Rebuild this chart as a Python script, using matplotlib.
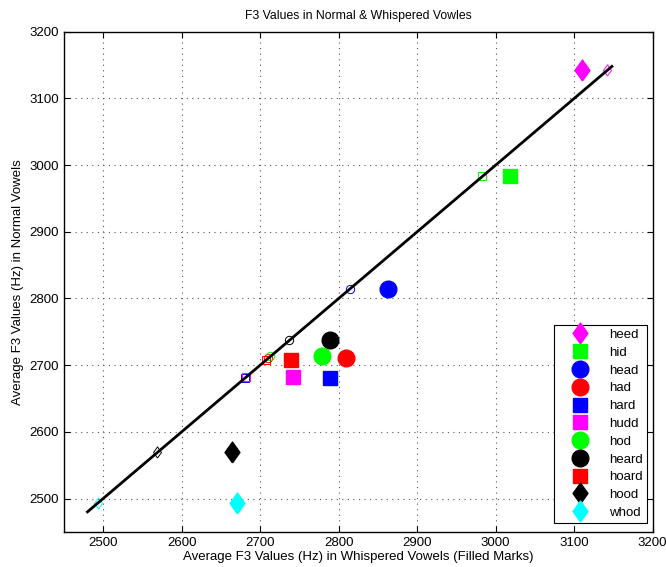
import numpy as np
import matplotlib.pyplot as plt

plt.rcParams['font.family'] = ['Liberation Sans', 'DejaVu Sans']
plt.rcParams['font.size'] = 9.5

# vowels, F3 (Hz): whispered (filled marks) vs normal
vowels = ['heed', 'hid', 'head', 'had', 'hard', 'hudd', 'hod', 'heard', 'hoard', 'hood', 'whod']
whispered = [3110, 3018, 2863, 2809, 2789, 2742, 2779, 2789, 2739, 2664, 2670]
normal = [3142, 2983, 2814, 2710, 2681, 2682, 2713, 2737, 2708, 2569, 2493]
colors = ['magenta', '#00ff00', 'blue', 'red', 'blue', 'magenta', '#00ff00', 'black', 'red', 'black', 'cyan']
markers = ['D', 's', 'o', 'o', 's', 's', 'o', 'o', 's', 'D', 'D']

# reference line y = x
line_x = [2480, 3148]

# tall MATLAB-style diamond
diamond = [(0, -1.4), (1, 0), (0, 1.4), (-1, 0), (0, -1.4)]

fig = plt.figure(figsize=(6.66, 5.67), dpi=100)
ax = fig.add_axes([0.096, 0.062, 0.884, 0.882])

for i in range(len(vowels)):
    m = markers[i]
    ms_open = 6
    if m == 'D':
        m = diamond
        ms_open = 8
    ax.plot(normal[i], normal[i], marker=m, markersize=ms_open, mfc='none',
            mec=colors[i], mew=0.7, linestyle='none')

ax.plot(line_x, line_x, color='k', lw=2)

for i in range(len(vowels)):
    m = markers[i]
    ms = 12
    if m == 's':
        ms = 9.5
    if m == 'D':
        m = diamond
        ms = 15
    ax.plot(whispered[i], normal[i], marker=m, markersize=ms, color=colors[i],
            mec=colors[i], linestyle='none', label=vowels[i])

ax.set_xlim(2450, 3200)
ax.set_ylim(2450, 3200)
ax.set_xticks(np.arange(2500, 3201, 100))
ax.set_yticks(np.arange(2500, 3201, 100))
ax.tick_params(direction='in', top=True, right=True, length=4, labelsize=9.5)
ax.grid(True, linestyle=(0, (1, 4)), color='#555555', lw=0.8)
for s in ax.spines.values():
    s.set_linewidth(1.0)

ax.set_title('F3 Values in Normal & Whispered Vowles', fontsize=8.8, pad=9)
ax.set_xlabel('Average F3 Values (Hz) in Whispered Vowels (Filled Marks)', fontsize=9.5, labelpad=2)
ax.set_ylabel('Average F3 Values (Hz) in Normal Vowels', fontsize=9.5, labelpad=4)

leg = ax.legend(loc='lower right', bbox_to_anchor=(0.99, 0.018), fancybox=False,
                edgecolor='k', framealpha=1, fontsize=9.5, handletextpad=0.5,
                labelspacing=0.42, borderaxespad=0, handlelength=3.4, borderpad=0.3)
leg.get_frame().set_linewidth(0.8)

fig.savefig('out.png', dpi=100)
